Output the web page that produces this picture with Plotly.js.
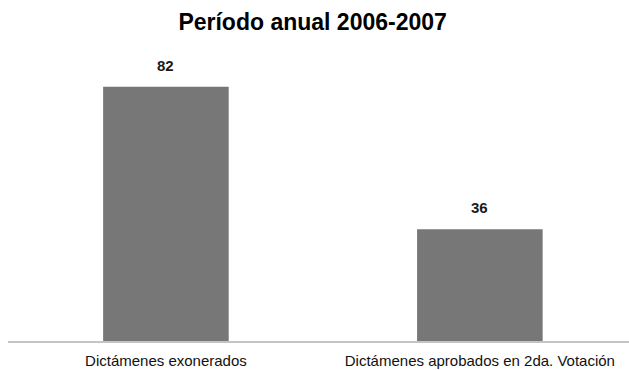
<!DOCTYPE html>
<html>
<head>
<meta charset="utf-8">
<script src="https://cdn.plot.ly/plotly-3.0.1.min.js"></script>
<style>
  html, body { margin: 0; padding: 0; background: #ffffff; }
  #chart { width: 629px; height: 370px; }
</style>
</head>
<body>
<div id="chart"></div>
<script>
// Dictámenes del período anual 2006-2007
const categories = ["Dictámenes exonerados", "Dictámenes aprobados en 2da. Votación"];
const values = [82, 36];
const chartTitle = "Período anual 2006-2007";

const barColor = "#777777";

const trace = {
  type: "bar",
  x: categories,
  y: values,
  width: 0.40,
  marker: { color: barColor, line: { width: 0 } },
  hoverinfo: "x+y",
  showlegend: false
};

// Value labels sit just above each bar
const valueLabels = categories.map((c, i) => ({
  x: c,
  y: values[i],
  xref: "x",
  yref: "y",
  text: String(values[i]),
  showarrow: false,
  yanchor: "bottom",
  yshift: 11,
  font: { family: "Liberation Sans, Arial, sans-serif", size: 15, color: "#1a1a1a", weight: "bold" }
}));

const layout = {
  width: 629,
  height: 370,
  paper_bgcolor: "#ffffff",
  plot_bgcolor: "#ffffff",
  margin: { l: 8, r: 0, t: 60, b: 29 },
  title: {
    text: "<b>" + chartTitle + "</b>",
    x: 0.497,
    xanchor: "center",
    y: 0.94,
    yanchor: "middle",
    font: { family: "Liberation Sans, Arial, sans-serif", size: 23, color: "#000000" }
  },
  xaxis: {
    type: "category",
    range: [-0.503, 1.475],
    showline: true,
    linecolor: "#c4c4c4",
    linewidth: 2,
    ticks: "",
    showgrid: false,
    zeroline: false,
    tickfont: { family: "Liberation Sans Narrow, Arial Narrow, sans-serif", size: 15, color: "#111111" },
    ticklabelstandoff: 5
  },
  yaxis: {
    range: [0, 90.6],
    showline: false,
    showgrid: false,
    zeroline: false,
    showticklabels: false,
    ticks: ""
  },
  annotations: valueLabels
};

Plotly.newPlot("chart", [trace], layout, { displayModeBar: false, staticPlot: true });
</script>
</body>
</html>
